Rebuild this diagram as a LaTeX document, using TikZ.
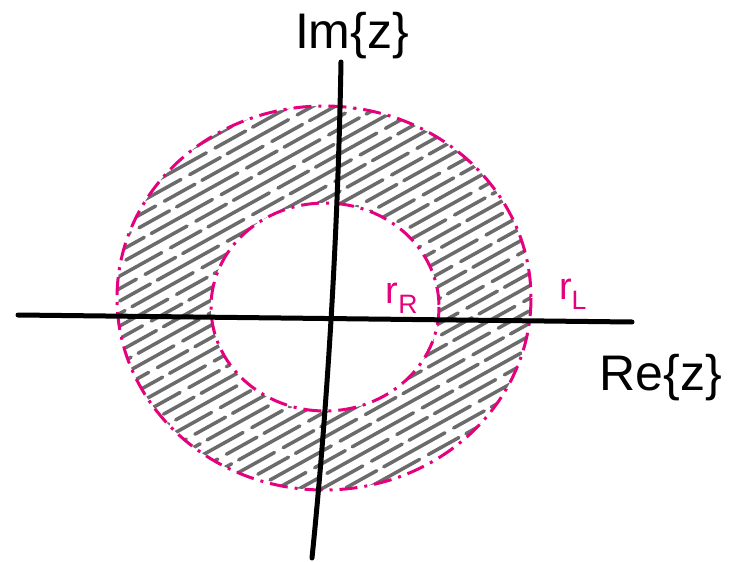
\documentclass[tikz,border=0pt]{standalone}
\usepackage{fontspec}
\setmainfont{Liberation Sans}
\definecolor{mag}{HTML}{E5007D}
\definecolor{hatchgray}{HTML}{6B6B6B}
\begin{document}
\begin{tikzpicture}[x=1pt,y=-1pt,
  axisline/.style={line width=5pt,line cap=round,black},
  roc/.style={mag,line width=3pt,dash pattern=on 18pt off 7pt on 3pt off 7pt},
  hatchline/.style={hatchgray,line width=3.5pt,line cap=round,dash pattern=on 70pt off 10pt on 35pt off 8pt},
  lbl/.style={inner sep=0pt,font=\fontsize{50}{50}\selectfont},
  rlbl/.style={inner sep=0pt,text=mag,font=\fontsize{38}{38}\selectfont}]
\useasboundingbox (0,0) rectangle (729,562);
\fill[white] (0,0) rectangle (729,562);
\coordinate (oc) at (324,298);
\coordinate (ic) at (325,307);
% hatching of the annulus
\begin{scope}
  \clip (oc) ellipse [x radius=207, y radius=192];
  \foreach \i in {0,...,44} {
    \draw[hatchline,dash phase=\i*29pt] (0,{180+\i*12.5}) -- ++(720,-400);
  }
\end{scope}
\fill[white] (ic) ellipse [x radius=114, y radius=104];
% circles
\draw[roc] (oc) ellipse [x radius=207, y radius=192];
\draw[roc] (ic) ellipse [x radius=114, y radius=104];
% axes
\coordinate (hl) at (18,315);
\coordinate (hr) at (632,322);
\coordinate (vt) at (341,62);
\coordinate (vb) at (312,558);
\draw[axisline] (hl) -- (hr);
\draw[axisline] (vt) .. controls (338,230) and (328,400) .. (vb);
% labels
\node[lbl] (im) at (352,36) {Im\{z\}};
\node[lbl,anchor=east] (re) at (722,378) {Re\{z\}};
\node[rlbl] (rr) at (402,298) {r\textsubscript{R}};
\node[rlbl] (rl) at (573,294) {r\textsubscript{L}};
\end{tikzpicture}
\end{document}
